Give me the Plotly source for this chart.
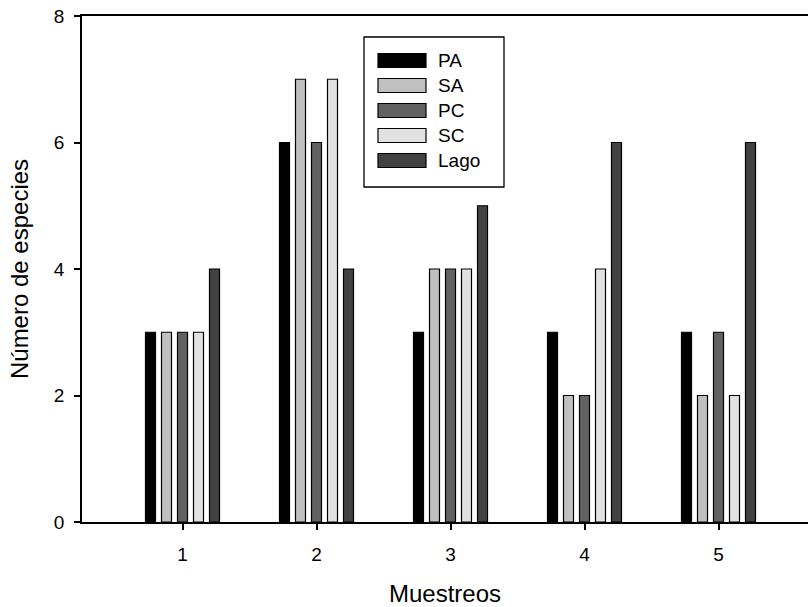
import plotly.graph_objects as go

# Species counts per sampling event and site
muestreos = [1, 2, 3, 4, 5]
series_names = ["PA", "SA", "PC", "SC", "Lago"]
pa = [3, 6, 3, 3, 3]
sa = [3, 7, 4, 2, 2]
pc = [3, 6, 4, 2, 3]
sc = [3, 7, 4, 4, 2]
lago = [4, 4, 5, 6, 6]
y_ticks = [0, 2, 4, 6, 8]

series_values = [pa, sa, pc, sc, lago]
fill_colors = ["#000000", "#c0c0c0", "#626262", "#e1e1e1", "#424242"]

FONT = "Liberation Sans, Arial, sans-serif"

fig = go.Figure()
for name, vals, col in zip(series_names, series_values, fill_colors):
    fig.add_trace(go.Bar(
        x=muestreos, y=vals, name=name,
        marker=dict(color=col, line=dict(color="#000000", width=1.2)),
        showlegend=False,
    ))

# Plot area in pixels (for placing the legend box)
W, H = 808, 607
ml, mr, mt, mb = 82, 0, 16, 85
pw, ph = W - ml - mr, H - mt - mb


def px_x(x):
    return (x - ml) / pw


def px_y(y):
    return (H - mb - y) / ph


shapes = [dict(type="rect", xref="paper", yref="paper",
               x0=px_x(364), x1=px_x(504), y0=px_y(187), y1=px_y(37),
               line=dict(color="#000000", width=1.3), fillcolor="white", layer="above")]
annotations = []
row0, step = 60.5, 25
for i, (name, col) in enumerate(zip(series_names, fill_colors)):
    cy = row0 + i * step
    shapes.append(dict(type="rect", xref="paper", yref="paper",
                       x0=px_x(378), x1=px_x(426), y0=px_y(cy + 7), y1=px_y(cy - 7),
                       line=dict(color="#000000", width=1.2), fillcolor=col, layer="above"))
    annotations.append(dict(xref="paper", yref="paper", x=px_x(436), y=px_y(cy),
                            text=name, showarrow=False, xanchor="left", yanchor="middle",
                            font=dict(family=FONT, size=19, color="#000000")))

fig.update_layout(
    width=W, height=H,
    margin=dict(l=ml, r=mr, t=mt, b=mb),
    paper_bgcolor="white", plot_bgcolor="white",
    barmode="group", bargap=0.403, bargroupgap=0.375,
    font=dict(family=FONT, size=19, color="#000000"),
    shapes=shapes, annotations=annotations,
    showlegend=False,
)
fig.update_xaxes(
    range=[0.25, 0.25 + pw / 134.0],
    tickvals=muestreos, ticktext=[str(m) for m in muestreos],
    ticks="outside", ticklen=6, tickwidth=1.5, tickcolor="#000000",
    ticklabelstandoff=8,
    showline=True, linecolor="#000000", linewidth=1.5, mirror=True,
    showgrid=False, zeroline=False,
    title=dict(text="Muestreos", font=dict(size=24), standoff=26),
)
fig.update_yaxes(
    range=[0, 8], tickvals=y_ticks,
    ticks="outside", ticklen=6, tickwidth=1.5, tickcolor="#000000",
    ticklabelstandoff=6,
    showline=True, linecolor="#000000", linewidth=1.5,
    showgrid=False, zeroline=False,
    title=dict(text="Número de especies", font=dict(size=24), standoff=18),
)

fig.write_html("out.html")
